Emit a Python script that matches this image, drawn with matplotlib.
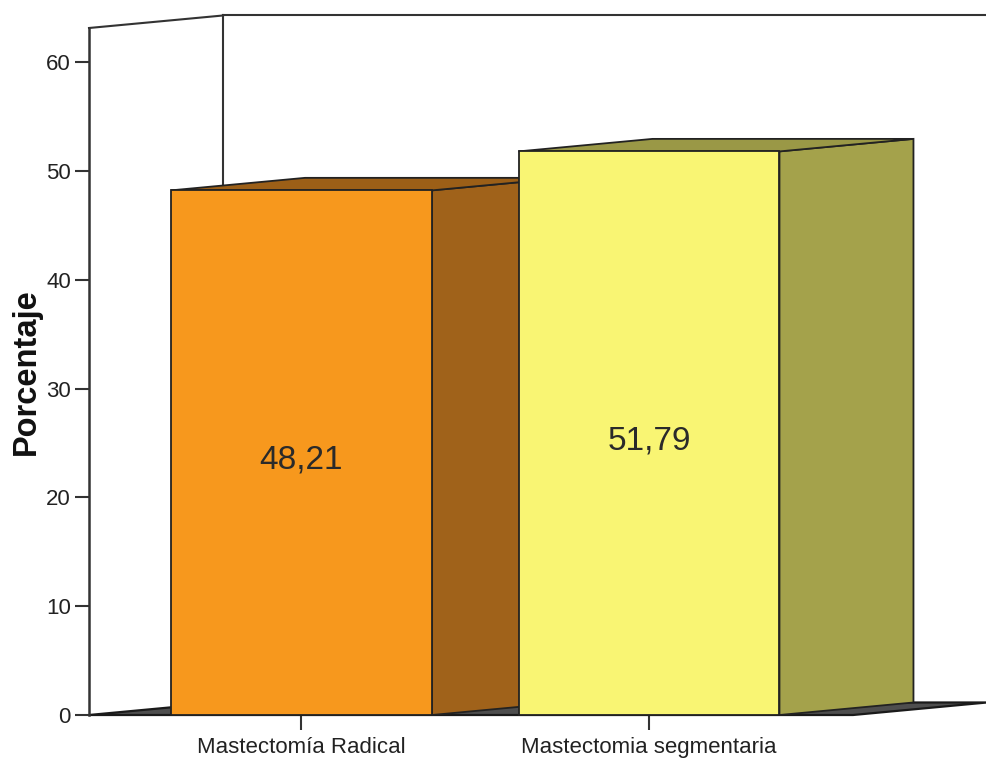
import matplotlib
matplotlib.use("Agg")
import matplotlib.pyplot as plt
from matplotlib.patches import Polygon

plt.rcParams['font.family'] = ['Liberation Sans', 'DejaVu Sans']

# ── Data ──────────────────────────────────────────────────────────────────────
categories = ['Mastectomía Radical', 'Mastectomia segmentaria']
values = [48.21, 51.79]
value_labels = ['48,21', '51,79']
y_ticks = [0, 10, 20, 30, 40, 50, 60]

front_colors = ['#F7981D', '#F9F573']
side_colors = ['#A0621A', '#A4A24B']
top_colors = ['#9C5F17', '#9A9846']

# ── Geometry of the pseudo-3D box (data units) ────────────────────────────────
X_LEFT, X_RIGHT = -0.6115, 1.9727
Y_TOP = 63.13
DX, DY = 0.3856, 1.15          # depth offset
BAR_W = 0.751
EDGE = '#222222'

fig = plt.figure(figsize=(9.87, 7.58), dpi=100)
ax = fig.add_axes([89 / 987, 43 / 758, (987 - 89) / 987, (715 - 28) / 758])
ax.set_xlim(X_LEFT, X_RIGHT)
ax.set_ylim(0, Y_TOP)

for side in ('top', 'right', 'bottom'):
    ax.spines[side].set_visible(False)
ax.spines['left'].set_color('#333333')
ax.spines['left'].set_linewidth(1.8)

# back wall / side wall outlines
ax.plot([X_LEFT, X_LEFT + DX], [Y_TOP, Y_TOP + DY], color='#333333', lw=1.5,
        clip_on=False, zorder=1)
ax.plot([X_LEFT + DX, X_RIGHT], [Y_TOP + DY, Y_TOP + DY], color='#333333',
        lw=1.5, clip_on=False, zorder=1)
ax.plot([X_LEFT + DX, X_LEFT + DX], [DY, Y_TOP + DY], color='#333333', lw=1.5,
        clip_on=False, zorder=1)

# floor
floor = Polygon([(X_LEFT, 0), (X_LEFT + DX, DY), (X_RIGHT, DY),
                 (X_RIGHT - DX, 0)], closed=True, facecolor='#4E4E4E',
                edgecolor='#1a1a1a', lw=1.6, clip_on=False, zorder=2)
ax.add_patch(floor)

# ── Bars ──────────────────────────────────────────────────────────────────────
for i, v in enumerate(values):
    x0, x1 = i - BAR_W / 2, i + BAR_W / 2
    front = Polygon([(x0, 0), (x1, 0), (x1, v), (x0, v)],
                    facecolor=front_colors[i], edgecolor=EDGE, lw=1.3,
                    zorder=3 + i * 3, clip_on=False)
    side = Polygon([(x1, 0), (x1 + DX, DY), (x1 + DX, v + DY), (x1, v)],
                   facecolor=side_colors[i], edgecolor=EDGE, lw=1.3,
                   zorder=3 + i * 3, clip_on=False)
    top = Polygon([(x0, v), (x0 + DX, v + DY), (x1 + DX, v + DY), (x1, v)],
                  facecolor=top_colors[i], edgecolor=EDGE, lw=1.3,
                  zorder=3 + i * 3, clip_on=False)
    for p in (side, top, front):
        ax.add_patch(p)
    ax.text(i, v / 2 - 0.7, value_labels[i], ha='center', va='center',
            fontsize=24, color='#2a2a2a', zorder=10)

# ── Axes ticks and labels ─────────────────────────────────────────────────────
ax.set_yticks(y_ticks)
ax.set_xticks(range(len(categories)))
ax.set_xticklabels(categories)
ax.tick_params(axis='y', direction='out', length=10, width=1.5,
               color='#333333', labelsize=16, labelcolor='#222222', pad=3)
ax.tick_params(axis='x', direction='out', length=11, width=1.5,
               color='#333333', labelsize=16, labelcolor='#222222', pad=5)
ax.set_ylabel('Porcentaje', fontsize=23.5, fontweight='bold', color='#111111')
ax.yaxis.set_label_coords(-0.052, 0.5)

fig.savefig('out.png', dpi=100)
